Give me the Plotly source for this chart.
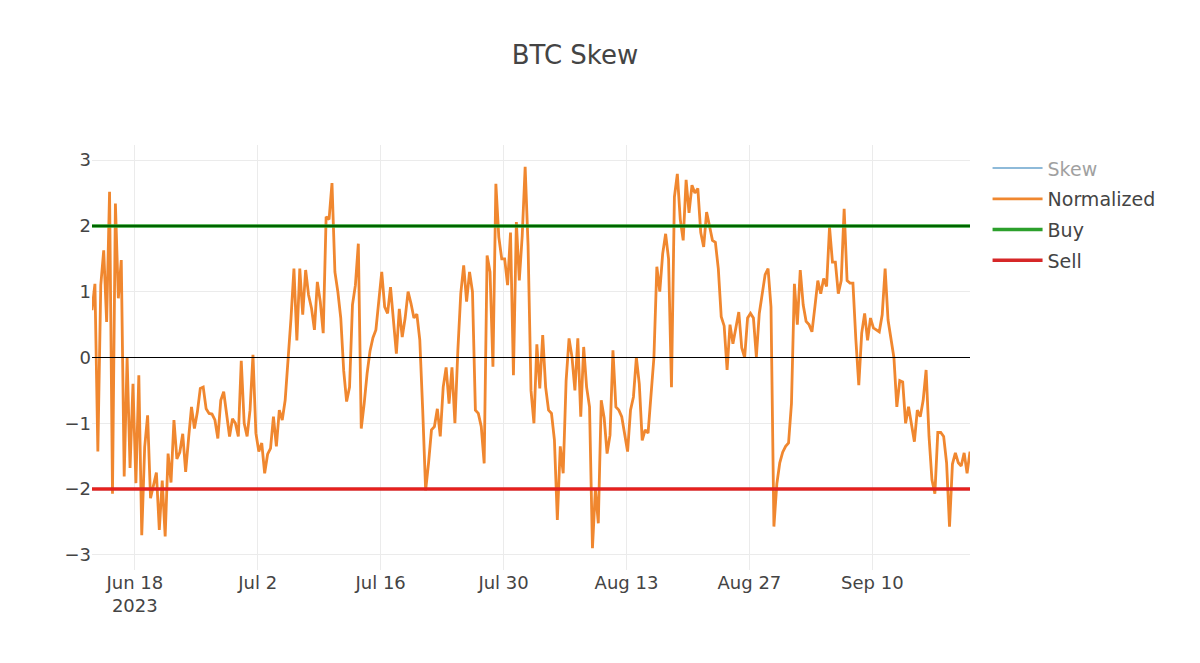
import pandas as pd
import plotly.graph_objects as go

# 8-hourly readings, first one 2023-06-13 03:00
start = "2023-06-13 03:00"
freq = "8h"

normalized = [
    0.72, 1.12, -1.43, 1.1, 1.63, 0.54, 2.52, -2.07, 2.34, 0.9,
    1.48, -1.81, 0.0, -1.68, -0.4, -1.91, -0.27, -2.7, -1.36, -0.88,
    -2.14, -1.92, -1.75, -2.62, -1.87, -2.72, -1.46, -1.9, -0.95, -1.54,
    -1.44, -1.16, -1.74, -1.23, -0.75, -1.08, -0.83, -0.47, -0.45, -0.78,
    -0.85, -0.86, -0.95, -1.23, -0.65, -0.52, -0.85, -1.2, -0.93, -1.0,
    -1.2, -0.05, -1.0, -1.2, -0.8, 0.04, -1.15, -1.43, -1.3, -1.76,
    -1.47, -1.38, -0.9, -1.35, -0.8, -0.95, -0.65, -0.05, 0.6, 1.35,
    0.26, 1.35, 0.65, 1.33, 0.95, 0.75, 0.42, 1.15, 0.85, 0.37,
    2.14, 2.1, 2.65, 1.3, 1.0, 0.6, -0.2, -0.67, -0.45, 0.8,
    1.1, 1.73, -1.08, -0.7, -0.24, 0.1, 0.3, 0.42, 0.85, 1.3,
    0.77, 0.67, 1.07, 0.62, 0.06, 0.74, 0.31, 0.6, 1.0, 0.82,
    0.6, 0.66, 0.27, -0.8, -2.02, -1.6, -1.1, -1.05, -0.78, -1.2,
    -0.45, -0.15, -0.7, -0.15, -1.0, 0.1, 0.97, 1.4, 0.85, 1.3,
    1.0, -0.8, -0.85, -1.05, -1.61, 1.55, 1.3, -0.14, 2.64, 1.83,
    1.5, 1.5, 1.1, 1.9, -0.27, 2.06, 1.17, 1.85, 2.9, 1.7,
    -0.5, -1.0, 0.2, -0.47, 0.34, -0.45, -0.8, -0.85, -1.25, -2.47,
    -1.35, -1.76, -0.35, 0.29, 0.01, -0.5, 0.29, -0.9, 0.16, -0.45,
    -0.75, -2.9, -2.0, -2.52, -0.65, -0.92, -1.46, -1.18, 0.11, -0.75,
    -0.8, -0.9, -1.15, -1.43, -0.8, -0.6, 0.0, -0.4, -1.26, -1.1,
    -1.15, -0.5, 0.0, 1.38, 1.0, 1.58, 1.88, 1.5, -0.45, 2.44,
    2.79, 2.1, 1.78, 2.7, 2.2, 2.62, 2.5, 2.57, 1.9, 1.68,
    2.21, 2.0, 1.78, 1.75, 1.35, 0.62, 0.48, -0.19, 0.5, 0.21,
    0.45, 0.69, 0.15, 0.0, 0.6, 0.67, 0.6, 0.01, 0.67, 0.95,
    1.26, 1.35, 0.77, -2.57, -1.92, -1.6, -1.44, -1.35, -1.3, -0.7,
    1.12, 0.5, 1.33, 0.8, 0.55, 0.5, 0.39, 0.77, 1.17, 0.97,
    1.2, 1.08, 1.98, 1.45, 1.45, 0.97, 1.17, 2.26, 1.17, 1.13,
    1.13, 0.27, -0.42, 0.37, 0.67, 0.26, 0.6, 0.45, 0.42, 0.39,
    0.65, 1.35, 0.57, 0.26, 0.0, -0.75, -0.35, -0.37, -1.0, -0.75,
    -1.05, -1.28, -0.8, -0.9, -0.65, -0.19, -1.2, -1.86, -2.07, -1.14,
    -1.14, -1.2, -1.6, -2.57, -1.62, -1.45, -1.6, -1.65, -1.45, -1.76,
    -1.43,
]

buy_level = 2
sell_level = -2

dates = pd.date_range(start, periods=len(normalized), freq=freq)

fig = go.Figure()
# raw skew is switched off in the legend
fig.add_trace(go.Scatter(x=[None], y=[None], name="Skew", mode="lines", legendgroup="skew",
                         line=dict(color="#1f77b4", width=2), visible="legendonly"))
fig.add_trace(go.Scatter(x=dates, y=normalized, name="Normalized", mode="lines",
                         legendgroup="norm", line=dict(color="#f0872f", width=2.8)))
fig.add_trace(go.Scatter(x=[dates[0], dates[-1]], y=[buy_level, buy_level], name="Buy",
                         mode="lines", legendgroup="buy", line=dict(color="#2ca02c", width=3.5)))
fig.add_trace(go.Scatter(x=[dates[0], dates[-1]], y=[sell_level, sell_level], name="Sell",
                         mode="lines", legendgroup="sell", line=dict(color="#d62728", width=3.5)))

fig.add_hline(y=buy_level, line_color="darkgreen", line_width=2)
fig.add_hline(y=sell_level, line_color="#e8201c", line_width=2)
fig.add_hline(y=0, line_color="black", line_width=1)

fig.update_layout(
    template="plotly_white",
    width=1200, height=663,
    margin=dict(l=84, r=238, t=137, b=101),
    font=dict(family="DejaVu Sans", size=18, color="#444"),
    title=dict(text="BTC Skew", x=0.4725, xref="container", xanchor="center",
               y=0.929, yanchor="middle", font=dict(size=26, color="#444")),
    legend=dict(x=1.02, y=0.99, yanchor="top", font=dict(size=19), itemwidth=50,
                tracegroupgap=3),
    showlegend=True,
)
fig.update_xaxes(type="date", dtick=14 * 86400000, tick0="2023-06-18",
                 gridcolor="#ebebeb", showline=False, zeroline=False)
fig.update_yaxes(range=[-3.23, 3.23], dtick=1, gridcolor="#ebebeb", zeroline=False)

fig.write_html("out.html")
